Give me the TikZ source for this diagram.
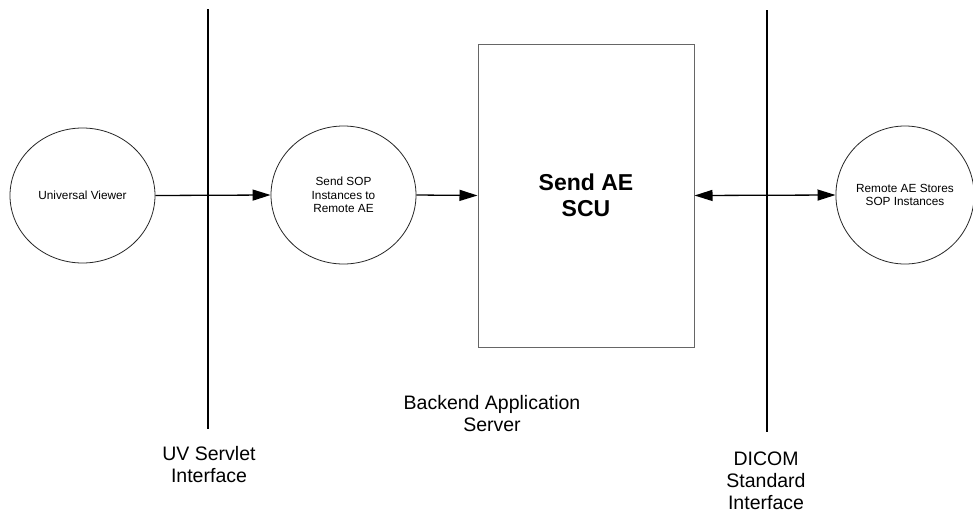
\documentclass[tikz,border=0pt]{standalone}
\usepackage{fontspec}
\setmainfont{Liberation Sans}
\usetikzlibrary{arrows.meta,shapes.geometric}
\begin{document}
\begin{tikzpicture}[x=1pt,y=-1pt,
  proc/.style={draw=black!85,line width=0.8pt,ellipse,minimum width=144pt,minimum height=136pt,inner sep=0pt,align=center,font=\fontsize{11.8}{13.5}\selectfont},
  bigbox/.style={draw=black!60,line width=1pt,minimum width=216pt,minimum height=303pt,inner sep=0pt,align=center,font=\fontsize{23}{26}\selectfont\bfseries},
  lbl/.style={align=center,font=\fontsize{19.5}{22}\selectfont},
  flow/.style={line width=1.3pt,-{Triangle[length=18pt,width=11pt]}},
  bflow/.style={line width=1.3pt,{Triangle[length=18pt,width=11pt]}-{Triangle[length=18pt,width=11pt]}},
  divider/.style={line width=2pt}]
\useasboundingbox (0,0) rectangle (973,512);
\fill[white] (0,0) rectangle (973,512);
% dividers
\coordinate (d1t) at (208,9);
\coordinate (d1b) at (208,429);
\coordinate (d2t) at (767,10);
\coordinate (d2b) at (767,432);
\draw[divider] (d1t) -- (d1b);
\draw[divider] (d2t) -- (d2b);
% nodes
\node[proc,minimum width=145pt,minimum height=135pt] (uv) at (82.5,195.5) {Universal Viewer};
\node[proc,minimum width=145pt,minimum height=138pt] (sop) at (343.5,195) {Send SOP\\Instances to\\Remote AE};
\node[bigbox] (scu) at (586,195.5) {Send AE\\SCU};
\node[proc,minimum width=136pt,minimum height=138pt] (rae) at (905,195) {Remote AE Stores\\SOP Instances};
% arrows
\draw[flow] (uv.east) -- (sop.west);
\draw[flow] (sop.east) -- (scu.west);
\draw[bflow] (scu.east) -- (rae.west);
% labels
\node[lbl] (uvl) at (209,464.5) {UV Servlet\\Interface};
\node[lbl] (bas) at (492,414) {Backend Application\\Server};
\node[lbl] (dsi) at (766,481) {DICOM\\Standard\\Interface};
\end{tikzpicture}
\end{document}
